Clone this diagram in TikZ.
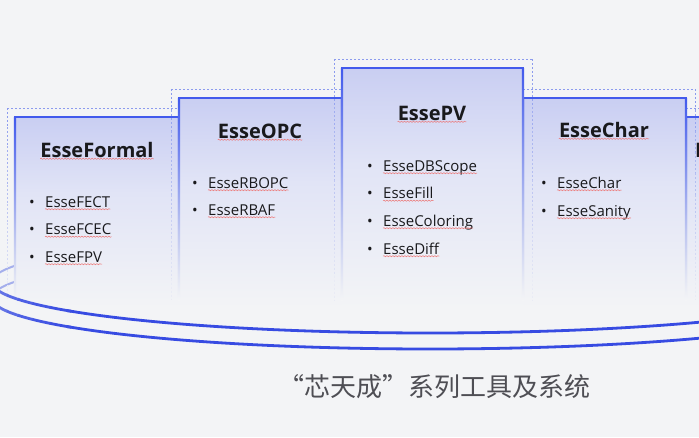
\documentclass[tikz,border=0pt]{standalone}
\usepackage{fontspec}
\setmainfont{Open Sans}
\newfontfamily\cjkfont{Noto Sans CJK SC}
\usetikzlibrary{decorations.pathmorphing}
\definecolor{bgc}{RGB}{243,244,246}
\definecolor{boxtop}{RGB}{201,206,242}
\definecolor{boxmid}{RGB}{225,228,246}
\definecolor{edgeblue}{RGB}{66,90,236}
\definecolor{edgemid}{RGB}{190,198,240}
\definecolor{dashc}{RGB}{140,155,238}
\definecolor{ringblue}{RGB}{55,75,226}
\definecolor{ringlight}{RGB}{165,175,236}
\definecolor{txt}{RGB}{25,25,28}
\definecolor{capc}{RGB}{78,78,84}
\definecolor{squigc}{RGB}{236,120,120}
\pgfdeclareverticalshading{boxshade}{100bp}{color(0bp)=(bgc); color(25bp)=(bgc); color(55bp)=(boxmid); color(75bp)=(boxtop); color(100bp)=(boxtop)}
\pgfdeclareverticalshading{lineshade}{100bp}{color(0bp)=(bgc); color(25bp)=(bgc); color(42bp)=(edgemid); color(75bp)=(edgeblue); color(100bp)=(edgeblue)}
\newcommand\essebox[3]{%
  \foreach \k in {0,...,9}{%
    \pgfmathsetmacro\pc{100-\k*10}%
    \pgfmathsetmacro\ya{#3-9+\k*(300-#3+9)/10}%
    \pgfmathsetmacro\yb{#3-9+(\k+1)*(300-#3+9)/10}%
    \draw[dashline, draw=dashc!\pc!bgc] (#1-8,\ya) -- (#1-8,\yb) (#2+9,\ya) -- (#2+9,\yb);
  }%
  \draw[dashline] (#1-8,#3-9) -- (#2+9,#3-9);
  \shade[shading=boxshade] (#1,#3) rectangle (#2,308);
  \shade[shading=lineshade] (#1-1.2,#3) rectangle (#1+1.2,300);
  \shade[shading=lineshade] (#2-1.2,#3) rectangle (#2+1.2,300);
  \draw[topline] (#1-1.2,#3) -- (#2+1.2,#3);
}
% front half of a ring (y grows downwards): angles 0..180
\newcommand\essering[1]{%
  \draw[ring] plot[domain=0:146, samples=120] ({430+438*cos(\x)},{#1+51*sin(\x)});
  \foreach \a/\m in {145/95,150/88,155/80,160/70,165/60,170/50,175/42}{%
    \draw[ring, draw=ringblue!\m!ringlight] plot[domain=\a:\a+5.3, samples=8] ({430+438*cos(\x)},{#1+51*sin(\x)});
  }%
}
\newcommand\esseback[1]{%
  \draw[ring, draw=ringlight, line width=2pt] plot[domain=180:360, samples=150] ({430+438*cos(\x)},{#1+51*sin(\x)});
}
\newcommand\esseitem[5]{%
  \node[bul] (#1b) at (#2,#4) {•};
  \node[itm] (#1) at (#3,#4) {#5};
  \draw[squig] ([yshift=-2.2pt]#1.base west) -- ([yshift=-2.2pt]#1.base east);
}
\newcommand\essetitle[4]{%
  \node[ttl] (#1) at (#2,#3) {#4};
  \draw[squig] ([yshift=-1.8pt]#1.base west) -- ([yshift=-1.8pt]#1.base east);
}
\begin{document}
\begin{tikzpicture}[x=1pt, y=-1pt,
  dashline/.style={draw=dashc, line width=0.8pt, dash pattern=on 2pt off 2pt},
  topline/.style={draw=edgeblue, line width=2.4pt},
  ring/.style={draw=ringblue, line width=2.8pt},
  ttl/.style={font=\bfseries\fontsize{20}{24}\selectfont, text=txt, inner sep=0pt, anchor=base},
  itm/.style={font=\fontsize{15}{18}\selectfont, text=txt, inner sep=0pt, anchor=base west},
  bul/.style={font=\fontsize{15}{18}\selectfont, text=txt, inner sep=0pt, anchor=base},
  squig/.style={draw=squigc, line width=0.5pt, decorate, decoration={snake, segment length=3pt, amplitude=0.6pt}},
  capstyle/.style={font=\cjkfont\fontsize{26}{30}\selectfont, inner sep=0pt, anchor=base}]
\useasboundingbox (0,0) rectangle (699,437);
\fill[bgc] (0,0) rectangle (699,437);
% rings: back parts (mostly hidden by the boxes)
\esseback{282}
\esseback{298}
% boxes
\essebox{15}{179}{117}
\essebox{686}{850}{117}
\essebox{179}{342}{98}
\essebox{523}{686}{98}
\essebox{342}{523}{68}
% ring front halves
\essering{282}
\essering{298}
% titles
\essetitle{tformal}{97}{157}{EsseFormal}
\essetitle{topc}{260}{138}{EsseOPC}
\essetitle{tpv}{432}{120}{EssePV}
\essetitle{tchar}{604}{137}{EsseChar}
\node[ttl, anchor=base west] (tfive) at (695,157) {E};
% items
\esseitem{fect}{32}{45}{207}{EsseFECT}
\esseitem{fcec}{32}{45}{234.5}{EsseFCEC}
\esseitem{fpv}{32}{45}{262}{EsseFPV}
\esseitem{rbopc}{195}{208}{188}{EsseRBOPC}
\esseitem{rbaf}{195}{208}{215}{EsseRBAF}
\esseitem{dbscope}{370}{383}{171}{EsseDBScope}
\esseitem{fill}{370}{383}{198.5}{EsseFill}
\esseitem{coloring}{370}{383}{226}{EsseColoring}
\esseitem{diff}{370}{383}{254}{EsseDiff}
\esseitem{char}{544}{557}{188}{EsseChar}
\esseitem{sanity}{544}{557}{216}{EsseSanity}
% caption
\node[capstyle, text=capc] (cap) at (434,396) {“芯天成”系列工具及系统};
\end{tikzpicture}
\end{document}
